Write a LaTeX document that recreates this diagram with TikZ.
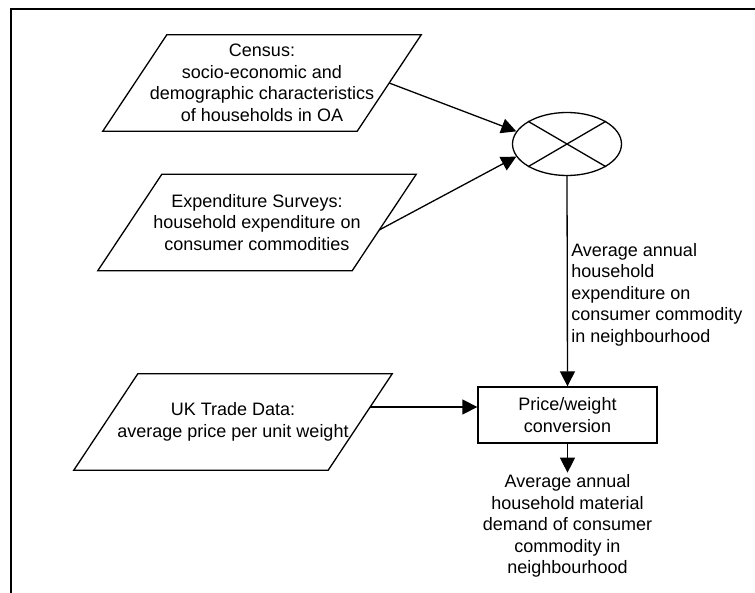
\documentclass[tikz,border=0pt]{standalone}
\usepackage{fontspec}
\setmainfont{Liberation Sans}
\usetikzlibrary{shapes.geometric, arrows.meta, positioning}

% slanted frame round a data node
\newcommand{\slantframe}[1]{%
  \draw[line width=1.3pt] ([xshift=32pt]#1.north west) -- ([xshift=32pt]#1.north east)
    -- ([xshift=-32pt]#1.south east) -- ([xshift=-32pt]#1.south west) -- cycle;}

\begin{document}
\begin{tikzpicture}[
    x=1pt, y=-1pt,
    every node/.style={font=\fontsize{18}{21.5}\selectfont},
    datain/.style={rectangle, minimum width=254pt, minimum height=96pt, align=center, inner sep=0pt},
    box/.style={rectangle, draw, line width=1.3pt, minimum width=179pt, minimum height=56pt, align=center},
    joint/.style={ellipse, draw, line width=1.3pt, minimum width=109pt, minimum height=63pt},
    arrow/.style={-{Triangle[length=15pt,width=15pt]}, line width=1.3pt},
    label/.style={align=left}
]
\useasboundingbox (0,0) rectangle (755,593);

% page frame
\draw[line width=1.6pt] (11,593) -- (11,9) -- (755,9);

% data sources
\node[datain] (census) at (262,83) {Census:\\socio-economic and\\demographic characteristics\\of households in OA};
\node[datain] (survey) at (257,222.5) {Expenditure Surveys:\\household expenditure on\\consumer commodities};
\node[datain] (trade) at (233,422) {UK Trade Data:\\average price per unit weight};
\slantframe{census}
\slantframe{survey}
\slantframe{trade}

% combination
\node[joint] (join) at (567,144) {};
\draw[line width=1.3pt] (join.north west) -- (join.south east) (join.south west) -- (join.north east);

% conversion
\node[box] (conv) at (567.5,415) {Price/weight\\conversion};
\node[align=center, inner sep=2pt, below=29pt of conv] (demand) {Average annual\\household material\\demand of consumer\\commodity in\\neighbourhood};

% arrows
\coordinate (surveyout) at ([shift={(-5,7.5)}]survey.east);
\coordinate (tradeout) at ([shift={(10,-15)}]trade.east);
\draw[arrow] (census.east) -- (join.166);
\draw[arrow] (surveyout) -- (join.194);
\draw[arrow] (join.south) -- node[right, pos=0.564, label] {Average annual\\household\\expenditure on\\consumer commodity\\in neighbourhood} (conv.north);
\draw[arrow] (tradeout) -- (tradeout -| conv.west);
\draw[arrow] (conv.south) -- (demand.north);

\end{tikzpicture}
\end{document}
